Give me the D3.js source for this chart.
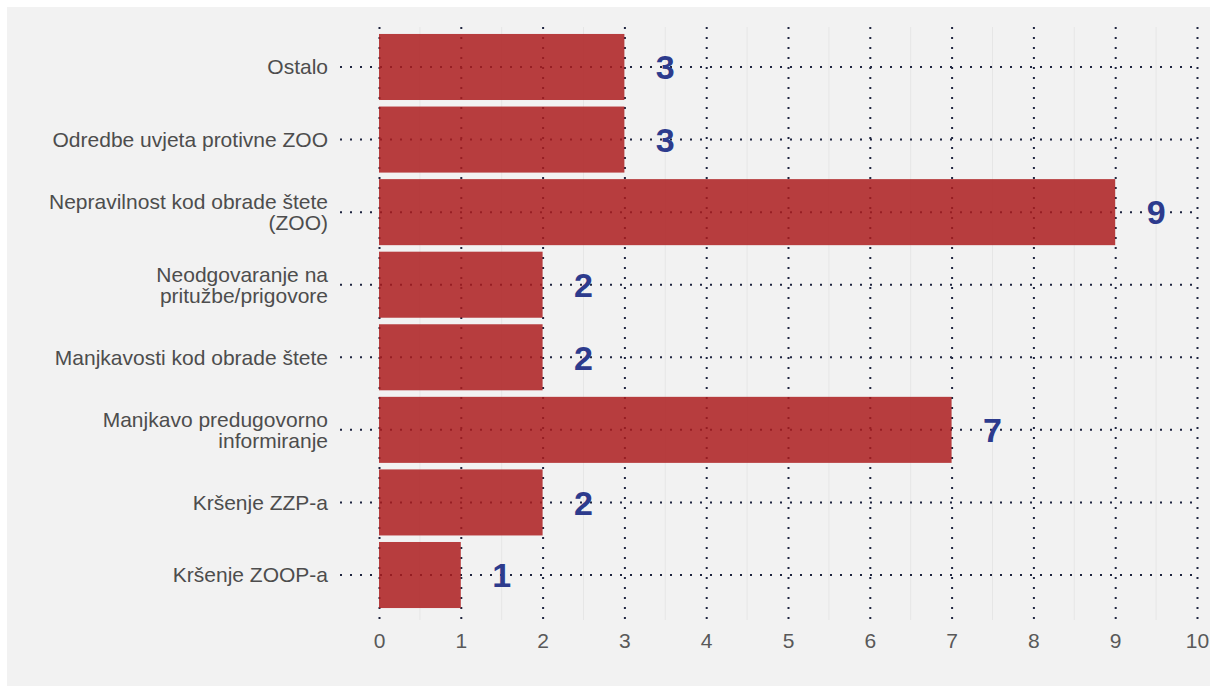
<!DOCTYPE html>
<html>
<head>
<meta charset="utf-8">
<script src="https://cdn.jsdelivr.net/npm/d3@7"></script>
<style>
  body { margin: 0; background: #ffffff; }
  text { font-family: "Liberation Sans", Arial, sans-serif; }
</style>
</head>
<body>
<div id="chart"></div>
<script>
const categories = [
  "Ostalo",
  "Odredbe uvjeta protivne ZOO",
  "Nepravilnost kod obrade štete\n(ZOO)",
  "Neodgovaranje na\npritužbe/prigovore",
  "Manjkavosti kod obrade štete",
  "Manjkavo predugovorno\ninformiranje",
  "Kršenje ZZP-a",
  "Kršenje ZOOP-a"
];
const values = [3, 3, 9, 2, 2, 7, 2, 1];
const xTicks = [0, 1, 2, 3, 4, 5, 6, 7, 8, 9, 10];
const xMinorTicks = [0.5, 1.5, 2.5, 3.5, 4.5, 5.5, 6.5, 7.5, 8.5, 9.5];

const width = 1217;
const height = 686;

const margin = {
  left: 379,
  right: 20,
  top: 27,
  bottom: 67
};

const barColor = "#ad1d1e";
const labelColor = "#2d3b8d";
const dotColor = "#1f2540";

const svg = d3.select("#chart").append("svg")
  .attr("width", width)
  .attr("height", height);

// panel background
svg.append("rect")
  .attr("x", 7)
  .attr("y", 7)
  .attr("width", 1203)
  .attr("height", 679)
  .attr("fill", "#f2f2f2");

const xScale = d3.scaleLinear()
  .domain([0, 10])
  .range([margin.left, width - margin.right]);

const yScale = d3.scaleBand()
  .domain(categories)
  .range([30.7, 611.3])
  .paddingInner(0.09)
  .paddingOuter(0.045);

const axisY = height - margin.bottom;

// minor gridlines
svg.append("g")
  .selectAll("line")
  .data(xMinorTicks)
  .join("line")
    .attr("x1", d => xScale(d))
    .attr("x2", d => xScale(d))
    .attr("y1", margin.top)
    .attr("y2", axisY + 1)
    .attr("stroke", "#e6e6e6")
    .attr("stroke-width", 1);

// x axis with dotted vertical gridlines
const xAxis = svg.append("g")
  .attr("class", "axis axis--x")
  .attr("transform", "translate(0," + axisY + ")")
  .call(
    d3.axisBottom(xScale)
      .tickValues(xTicks)
      .tickSize(-(axisY - margin.top))
      .tickPadding(14)
  );

xAxis.selectAll(".domain").remove();
xAxis.selectAll(".tick line")
  .attr("stroke", dotColor)
  .attr("stroke-width", 2)
  .attr("stroke-dasharray", "2 8");
xAxis.selectAll(".tick text")
  .attr("fill", "#595959")
  .style("font-size", "21px");

// y axis with dotted horizontal lines
const lineStart = 340;
const yAxis = svg.append("g")
  .attr("class", "axis axis--y")
  .attr("transform", "translate(" + lineStart + ",0)")
  .call(
    d3.axisLeft(yScale)
      .tickSize(-(xScale(10) - lineStart))
      .tickPadding(12)
  );

yAxis.selectAll(".domain").remove();
yAxis.selectAll(".tick line")
  .attr("stroke", dotColor)
  .attr("stroke-width", 2)
  .attr("stroke-dasharray", "2 8");

yAxis.selectAll(".tick text")
  .attr("fill", "#4d4d4d")
  .style("font-size", "21px")
  .each(function(d) {
    const lines = d.split("\n");
    const t = d3.select(this);
    t.text(null).attr("dy", null);
    const lineH = 21;
    const start = -(lines.length - 1) * lineH / 2;
    lines.forEach((l, i) => {
      t.append("tspan")
        .attr("x", -12)
        .attr("y", start + i * lineH)
        .attr("dy", "0.35em")
        .text(l);
    });
  });

// bars
svg.append("g")
  .selectAll("rect")
  .data(values)
  .join("rect")
    .attr("x", xScale(0))
    .attr("y", (d, i) => yScale(categories[i]))
    .attr("width", d => xScale(d) - xScale(0))
    .attr("height", yScale.bandwidth())
    .attr("fill", barColor)
    .style("opacity", 0.85);

// value labels
svg.append("g")
  .selectAll("text")
  .data(values)
  .join("text")
    .attr("x", d => xScale(d + 0.5))
    .attr("y", (d, i) => yScale(categories[i]) + yScale.bandwidth() / 2)
    .attr("dy", "0.36em")
    .attr("text-anchor", "middle")
    .attr("fill", labelColor)
    .style("font-size", "34px")
    .style("font-weight", "bold")
    .text(d => d);
</script>
</body>
</html>
